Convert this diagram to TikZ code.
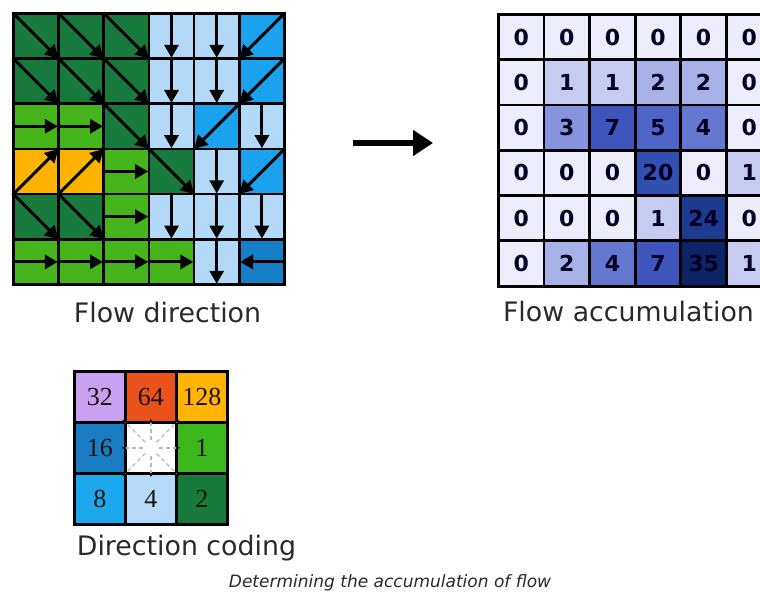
\documentclass[tikz,border=0pt]{standalone}
\usepackage{fontspec}
\setmainfont{DejaVu Sans}
\newfontfamily\numserif{Liberation Serif}
\usetikzlibrary{arrows.meta,calc}
\definecolor{dg}{HTML}{177A3C}
\definecolor{lg}{HTML}{45B51B}
\definecolor{lb}{HTML}{B3D9F9}
\definecolor{bb}{HTML}{1AA2EE}
\definecolor{orn}{HTML}{FFB300}
\definecolor{mb}{HTML}{1580C8}
\definecolor{v0}{HTML}{EDEDFB}
\definecolor{v1}{HTML}{C6CBF1}
\definecolor{v2}{HTML}{A7B0E7}
\definecolor{v3}{HTML}{8793DC}
\definecolor{v4}{HTML}{6478D0}
\definecolor{v5}{HTML}{4D64C8}
\definecolor{v7}{HTML}{3D55BC}
\definecolor{v20}{HTML}{3250B2}
\definecolor{v24}{HTML}{1B3A90}
\definecolor{v35}{HTML}{0C2466}
\definecolor{c32}{HTML}{C8A2F0}
\definecolor{c64}{HTML}{E9521B}
\definecolor{c128}{HTML}{FFB400}
\definecolor{c16}{HTML}{1A7DC4}
\definecolor{c1}{HTML}{3DB81C}
\definecolor{c8}{HTML}{1DA7EE}
\definecolor{c4}{HTML}{B5DAF9}
\definecolor{c2}{HTML}{177A3C}
\definecolor{txt}{HTML}{2A2A2A}
\tikzset{
  fdcell/.style={draw=black, line width=2.6pt, minimum width=45.2pt, minimum height=45.2pt, inner sep=0pt, anchor=north west},
  facell/.style={draw=black, line width=2.8pt, minimum width=45.6pt, minimum height=45.3pt, inner sep=0pt, anchor=north west,
                 font=\bfseries\fontsize{22}{24}\selectfont, text=black!85!blue},
  dccell/.style={draw=black, line width=2.8pt, minimum width=51pt, minimum height=51pt, inner sep=0pt, anchor=north west,
                 font=\numserif\fontsize{26}{28}\selectfont, text=black!85!brown},
  fdarrow/.style={line width=3pt, -{Triangle[length=13pt,width=14pt]}},
  label/.style={font=\fontsize{26.8}{30}\selectfont, text=txt, anchor=base, inner sep=0pt},
  dcray/.style={draw=gray!55, dash pattern=on 4pt off 3pt, line width=1.3pt, -{Stealth[length=5pt,width=5pt,black]}},
  dSE/.code={\def\aa{north west}\def\bb{south east}},
  dS/.code={\def\aa{north}\def\bb{south}},
  dE/.code={\def\aa{west}\def\bb{east}},
  dW/.code={\def\aa{east}\def\bb{west}},
  dNE/.code={\def\aa{south west}\def\bb{north east}},
  dSW/.code={\def\aa{north east}\def\bb{south west}},
}
\begin{document}
\begin{tikzpicture}[x=1pt,y=-1pt]
\useasboundingbox (0,0) rectangle (760,593);
\clip (0,0) rectangle (760,593);
\fill[white] (0,0) rectangle (760,593);

% ---------- Flow direction grid ----------
\foreach \row [count=\r from 0] in {
  {dg/SE,dg/SE,dg/SE,lb/S,lb/S,bb/SW},
  {dg/SE,dg/SE,dg/SE,lb/S,lb/S,bb/SW},
  {lg/E,lg/E,dg/SE,lb/S,bb/SW,lb/S},
  {orn/NE,orn/NE,lg/E,dg/SE,lb/S,bb/SW},
  {dg/SE,dg/SE,lg/E,lb/S,lb/S,lb/S},
  {lg/E,lg/E,lg/E,lg/E,lb/S,mb/W}} {
  \foreach \col/\d [count=\c from 0] in \row {
    \node[fdcell, fill=\col] (fd-\r-\c) at ({12+45.2*\c},{12+45.2*\r}) {};
  }
}
\foreach \row [count=\r from 0] in {
  {dg/SE,dg/SE,dg/SE,lb/S,lb/S,bb/SW},
  {dg/SE,dg/SE,dg/SE,lb/S,lb/S,bb/SW},
  {lg/E,lg/E,dg/SE,lb/S,bb/SW,lb/S},
  {orn/NE,orn/NE,lg/E,dg/SE,lb/S,bb/SW},
  {dg/SE,dg/SE,lg/E,lb/S,lb/S,lb/S},
  {lg/E,lg/E,lg/E,lg/E,lb/S,mb/W}} {
  \foreach \col/\d [count=\c from 0] in \row {
    \pgfkeys{/tikz/d\d}
    \draw[fdarrow, shorten >=2pt, shorten <=1pt] (fd-\r-\c.\aa) -- (fd-\r-\c.\bb);
  }
}
\node[label] (fdlabel) at (167.5,323) {Flow direction};

% ---------- Arrow ----------
\coordinate (arrS) at (353,143);
\coordinate (arrE) at (433,143);
\draw[line width=5.5pt, -{Triangle[length=20pt,width=25pt]}] (arrS) -- (arrE);

% ---------- Flow accumulation grid ----------
\foreach \row [count=\r from 0] in {
  {0,0,0,0,0,0},
  {0,1,1,2,2,0},
  {0,3,7,5,4,0},
  {0,0,0,20,0,1},
  {0,0,0,1,24,0},
  {0,2,4,7,35,1}} {
  \foreach \v [count=\c from 0] in \row {
    \node[facell, fill=v\v] (fa-\r-\c) at ({497+45.6*\c},{13+45.3*\r}) {\v};
  }
}
\node[label] (falabel) at (628.5,322) {Flow accumulation};

% ---------- Direction coding ----------
\foreach \row [count=\r from 0] in {
  {c32/32,c64/64,c128/128},
  {c16/16,white/{},c1/1},
  {c8/8,c4/4,c2/2}} {
  \foreach \col/\t [count=\c from 0] in \row {
    \node[dccell, fill=\col] (dc-\r-\c) at ({73+51*\c},{370+51*\r}) {\t};
  }
}
\coordinate (dcc) at (dc-1-1.center);
\foreach \ang/\len in {0/29,45/40,90/29,135/40,180/29,225/40,270/29,315/40} {
  \draw[dcray] ($(dcc)+(\ang:8)$) -- ($(dcc)+(\ang:\len)$);
}
\node[label] (dclabel) at (186.5,555) {Direction coding};

% ---------- Caption ----------
\node[anchor=base, inner sep=0pt, font=\itshape\fontsize{17}{19}\selectfont, text=txt] (caption) at (390,587) {Determining the accumulation of flow};
\end{tikzpicture}
\end{document}
